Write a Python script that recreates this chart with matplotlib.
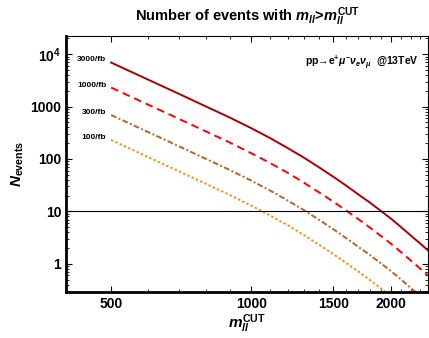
import matplotlib
matplotlib.use("Agg")
import matplotlib.pyplot as plt
from matplotlib.ticker import FixedLocator, NullFormatter, LogLocator

plt.rcParams['font.family'] = ['Liberation Sans', 'DejaVu Sans']
plt.rcParams['font.weight'] = 'bold'
plt.rcParams['mathtext.fontset'] = 'custom'
plt.rcParams['mathtext.rm'] = 'Liberation Sans:bold'
plt.rcParams['mathtext.it'] = 'Liberation Sans:italic:bold'
plt.rcParams['mathtext.bf'] = 'Liberation Sans:bold'

# m_ll cut values (GeV)
m_cut = [500, 600, 700, 800, 900, 1000, 1100, 1200, 1300, 1400,
         1500, 1600, 1700, 1800, 1900, 2000, 2100, 2200, 2300, 2400]

# number of events above the cut
n_3000 = [6900, 3270, 1740, 1000, 615, 387, 248, 160, 105, 69,
          46, 31, 21, 14.7, 10.2, 7.2, 5.0, 3.5, 2.5, 1.8]
n_1000 = [2300, 1090, 580, 334, 205, 129, 83, 54, 35, 23,
          15.4, 10.4, 7.1, 4.9, 3.4, 2.4, 1.66, 1.17, 0.83, 0.59]
n_300 = [690, 327, 174, 100, 61.5, 38.7, 24.8, 16, 10.5, 6.9,
         4.6, 3.1, 2.1, 1.47, 1.02, 0.72, 0.5, 0.35, 0.25, 0.18]
n_100 = [230, 109, 58, 33.4, 20.5, 12.9, 8.3, 5.4, 3.5, 2.3,
         1.54, 1.04, 0.71, 0.49, 0.34, 0.24, 0.17, 0.12, 0.08, 0.06]

labels = ['3000/fb', '1000/fb', '300/fb', '100/fb']
series = [n_3000, n_1000, n_300, n_100]
colors = ['#aa0000', '#ff0000', '#b5651d', '#ff8c00']
styles = ['-', (0, (4, 2.5)), (0, (3, 1.2, 1, 1.2)), (0, (1.2, 1.2))]

x_ticks = [500, 1000, 1500, 2000]
y_ticks = [1, 10, 100, 1000, 10000]
y_tick_labels = ['1', '10', '100', '1000', r'$\mathbf{10^4}$']

fig = plt.figure(figsize=(4.29, 3.38), dpi=100)
ax = fig.add_axes([0.154, 0.136, 0.844, 0.757])

for n, c, ls in zip(series, colors, styles):
    ax.plot(m_cut, n, color=c, linestyle=ls, lw=1.4)

ax.axhline(10, color='black', lw=0.8)

for lab, n in zip(labels, series):
    ax.text(488, n[0] * 1.12, lab, ha='right', va='center', fontsize=6,
            fontweight='bold')

ax.text(0.975, 0.9, 'pp\u2192e$^{+}$$\\mu^{-}\\nu_{e}\\nu_{\\mu}$  @13TeV',
        transform=ax.transAxes, ha='right', va='center', fontsize=7.5,
        fontweight='bold')

ax.set_xscale('log')
ax.set_yscale('log')
ax.set_xlim(400, 2400)
ax.set_ylim(0.29, 22000)

ax.xaxis.set_major_locator(FixedLocator(x_ticks))
ax.set_xticklabels([str(v) for v in x_ticks])
ax.xaxis.set_minor_locator(FixedLocator(list(range(400, 2400, 100))))
ax.xaxis.set_minor_formatter(NullFormatter())
ax.yaxis.set_major_locator(FixedLocator(y_ticks))
ax.set_yticklabels(y_tick_labels)
ax.yaxis.set_minor_locator(LogLocator(base=10, subs=range(2, 10)))
ax.yaxis.set_minor_formatter(NullFormatter())

ax.tick_params(which='both', direction='in', top=True, right=True,
               labelsize=10)
ax.tick_params(which='major', length=4, width=0.8)
ax.tick_params(which='minor', length=2, width=0.6)
for lab in ax.get_xticklabels() + ax.get_yticklabels():
    lab.set_fontweight('bold')

ax.spines['left'].set_linewidth(2)
ax.spines['bottom'].set_linewidth(2)
ax.spines['top'].set_linewidth(0.8)
ax.spines['right'].set_linewidth(0.8)

ax.set_title(r'Number of events with $m_{ll}$>$m_{ll}^{\mathrm{CUT}}$',
             fontsize=10.5, fontweight='bold', pad=11)
ax.set_xlabel(r'$m_{ll}^{\mathrm{CUT}}$', fontsize=11, labelpad=1)
ax.set_ylabel(r'$N_{\mathrm{events}}$', fontsize=11, labelpad=3)

fig.savefig('out.png', dpi=100)
